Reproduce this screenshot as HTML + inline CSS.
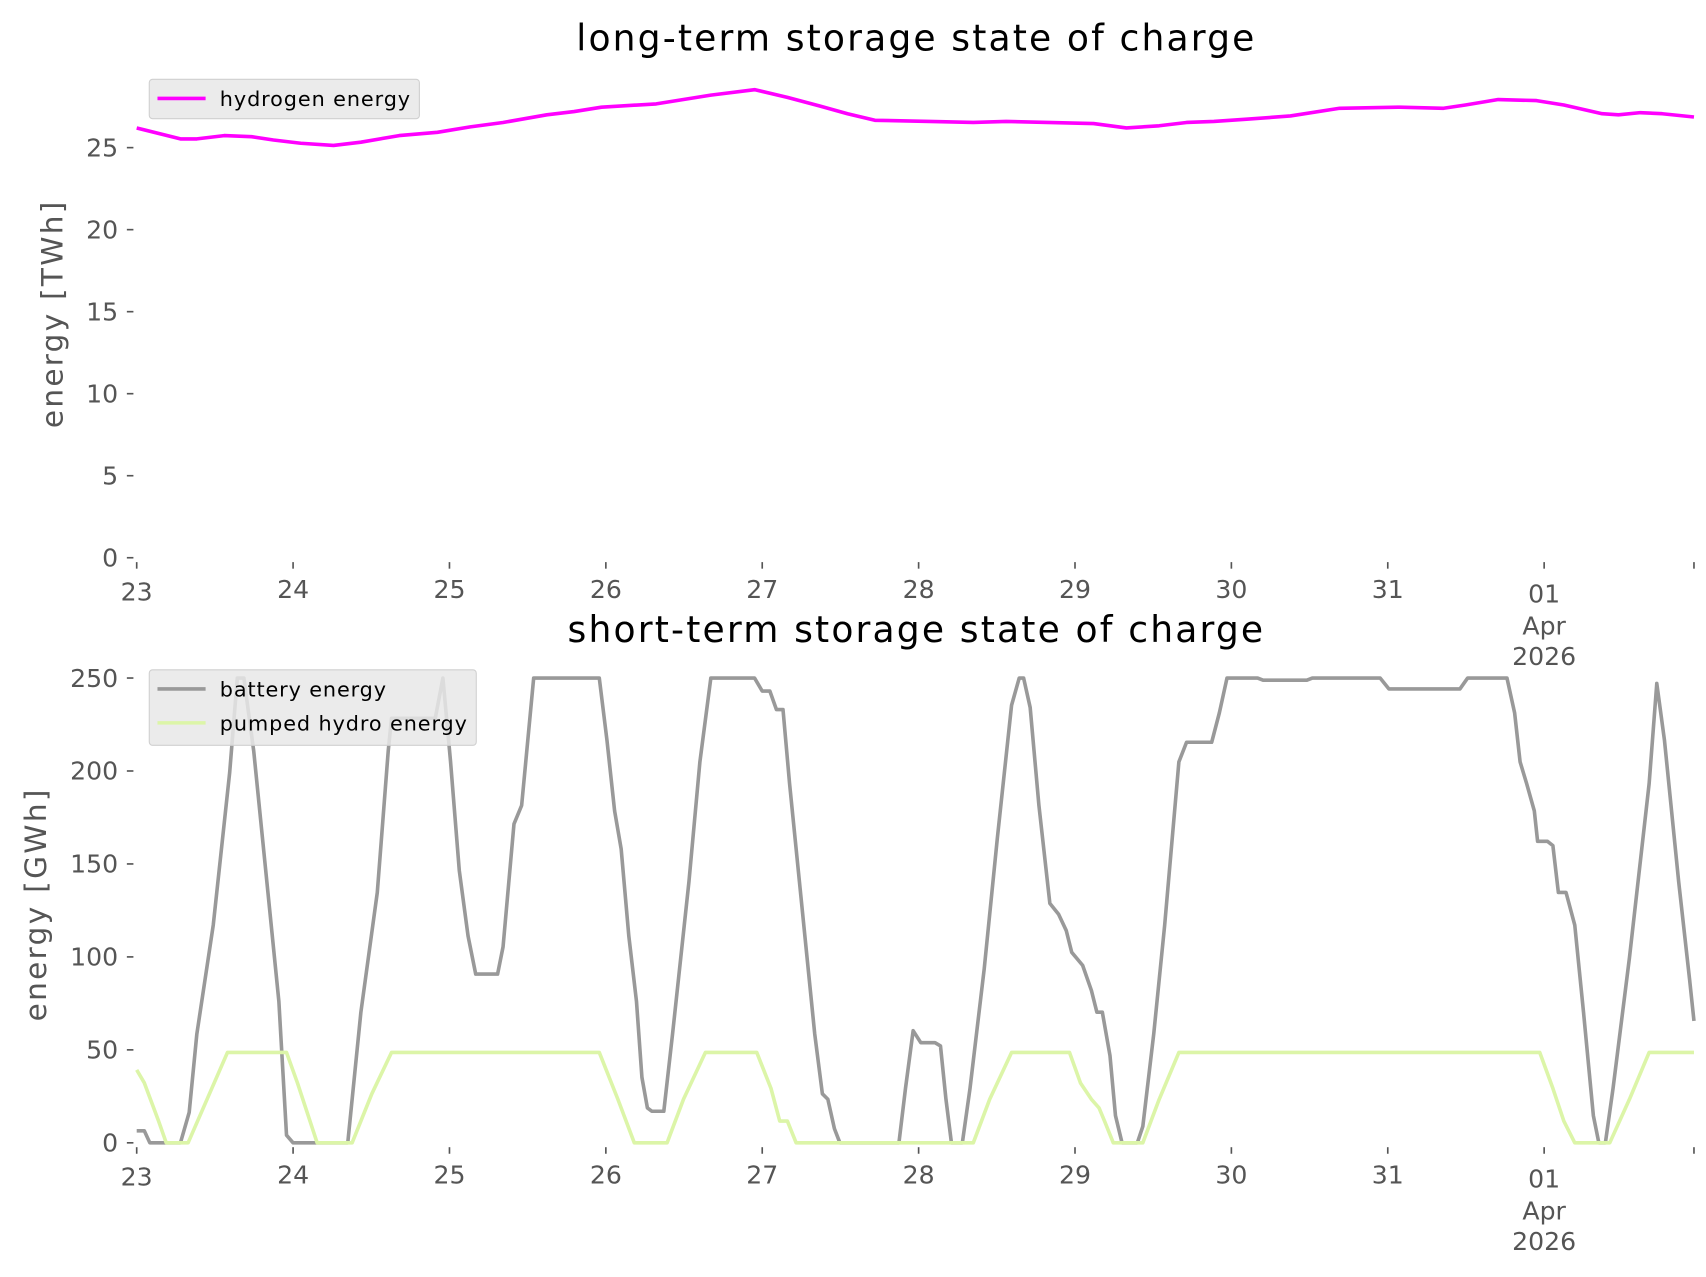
<!DOCTYPE html>
<html><head><meta charset="utf-8"><style>
html,body{margin:0;padding:0;background:#fff;}
svg{display:block;}
text{font-family:"DejaVu Sans","Liberation Sans",sans-serif;}
.t{fill:#555;font-size:23px;}
</style></head><body>
<svg width="1706" height="1277" viewBox="0 0 1560 1167.7" preserveAspectRatio="none" xmlns="http://www.w3.org/2000/svg">
<rect width="1560" height="1168" fill="#fff"/>
<!-- TOP -->
<text x="837" y="46" font-size="33" text-anchor="middle" textLength="620" fill="#000">long-term storage state of charge</text>
<text transform="translate(57,288) rotate(-90)" font-size="27" text-anchor="middle" textLength="207" fill="#555">energy [TWh]</text>
<g stroke="#555" stroke-width="1.5">
<line x1="116" y1="510" x2="122" y2="510"/><line x1="116" y1="435" x2="122" y2="435"/><line x1="116" y1="360" x2="122" y2="360"/><line x1="116" y1="285" x2="122" y2="285"/><line x1="116" y1="210" x2="122" y2="210"/><line x1="116" y1="135" x2="122" y2="135"/>
<line x1="125" y1="514" x2="125" y2="520"/><line x1="268" y1="514" x2="268" y2="520"/><line x1="411" y1="514" x2="411" y2="520"/><line x1="554" y1="514" x2="554" y2="520"/><line x1="697" y1="514" x2="697" y2="520"/><line x1="840" y1="514" x2="840" y2="520"/><line x1="983" y1="514" x2="983" y2="520"/><line x1="1126" y1="514" x2="1126" y2="520"/><line x1="1269" y1="514" x2="1269" y2="520"/><line x1="1412" y1="514" x2="1412" y2="520"/><line x1="1549" y1="514" x2="1549" y2="520"/>
</g>
<g class="t" text-anchor="end">
<text x="108" y="518">0</text><text x="108" y="443">5</text><text x="108" y="368">10</text><text x="108" y="293">15</text><text x="108" y="218">20</text><text x="108" y="143">25</text>
</g>
<g class="t" text-anchor="middle">
<text x="125" y="549">23</text><text x="268" y="547">24</text><text x="411" y="547">25</text><text x="554" y="547">26</text><text x="697" y="547">27</text><text x="840" y="547">28</text><text x="983" y="547">29</text><text x="1126" y="547">30</text><text x="1269" y="547">31</text><text x="1412" y="551">01</text><text x="1412" y="580">Apr</text><text x="1412" y="608">2026</text>
</g>
<polyline fill="none" stroke="#ff00ff" stroke-width="3.3" stroke-linejoin="round" points="125,117 165,127 180,127 205,124 230,125 250,128 275,131 305,133 330,130 365,124 400,121 430,116 460,112 500,105 525,102 550,98 600,95 650,87 690,82 720,89 750,97 775,104 800,110 850,111 890,112 920,111 1000,113 1030,117 1060,115 1085,112 1110,111 1140,109 1180,106 1225,99 1280,98 1320,99 1340,96 1370,91 1405,92 1430,96 1465,104 1480,105 1500,103 1520,104 1549,107"/>
<rect x="136.5" y="72.5" width="247" height="36" rx="3" fill="#e8e8e8" fill-opacity="0.85" stroke="#d0d0d0"/>
<line x1="144" y1="90" x2="188" y2="90" stroke="#ff00ff" stroke-width="3.3"/>
<text x="201" y="97" font-size="19" textLength="174" fill="#000">hydrogen energy</text>

<!-- BOTTOM -->
<text x="837" y="587" font-size="33" text-anchor="middle" textLength="636" fill="#000">short-term storage state of charge</text>
<text transform="translate(42,828) rotate(-90)" font-size="27" text-anchor="middle" textLength="212" fill="#555">energy [GWh]</text>
<g stroke="#555" stroke-width="1.5">
<line x1="116" y1="1045" x2="122" y2="1045"/><line x1="116" y1="960" x2="122" y2="960"/><line x1="116" y1="875" x2="122" y2="875"/><line x1="116" y1="790" x2="122" y2="790"/><line x1="116" y1="705" x2="122" y2="705"/><line x1="116" y1="620" x2="122" y2="620"/>
<line x1="125" y1="1049" x2="125" y2="1055"/><line x1="268" y1="1049" x2="268" y2="1055"/><line x1="411" y1="1049" x2="411" y2="1055"/><line x1="554" y1="1049" x2="554" y2="1055"/><line x1="697" y1="1049" x2="697" y2="1055"/><line x1="840" y1="1049" x2="840" y2="1055"/><line x1="983" y1="1049" x2="983" y2="1055"/><line x1="1126" y1="1049" x2="1126" y2="1055"/><line x1="1269" y1="1049" x2="1269" y2="1055"/><line x1="1412" y1="1049" x2="1412" y2="1055"/><line x1="1549" y1="1049" x2="1549" y2="1055"/>
</g>
<g class="t" text-anchor="end">
<text x="108" y="1053">0</text><text x="108" y="968">50</text><text x="108" y="883">100</text><text x="108" y="798">150</text><text x="108" y="713">200</text><text x="108" y="628">250</text>
</g>
<g class="t" text-anchor="middle">
<text x="125" y="1084">23</text><text x="268" y="1082">24</text><text x="411" y="1082">25</text><text x="554" y="1082">26</text><text x="697" y="1082">27</text><text x="840" y="1082">28</text><text x="983" y="1082">29</text><text x="1126" y="1082">30</text><text x="1269" y="1082">31</text><text x="1412" y="1086">01</text><text x="1412" y="1115">Apr</text><text x="1412" y="1143">2026</text>
</g>
<g transform="matrix(1 0 0 0.9953 0 -0.07)" fill="none" stroke-width="3.3" stroke-linejoin="round">
<polyline stroke="#999999" points="125,1039 132,1039 137,1050 165,1050 173,1022 180,950 195,850 210,710 217,623 223,623 232,690 245,820 255,920 262,1043 268,1050 318,1050 330,930 345,820 355,690 358,660 398,660 405,623 412,700 420,800 428,860 435,895 455,895 460,870 470,757 477,740 488,623 548,623 555,680 562,745 568,780 575,860 582,920 587,990 592,1018 596,1021 607,1021 615,950 630,810 640,700 650,623 690,623 697,635 704,635 710,652 716,652 722,720 730,800 740,900 745,950 752,1005 757,1010 763,1037 768,1050 822,1050 828,1000 835,947 842,958 855,958 860,961 865,1010 870,1050 880,1050 887,1000 900,890 912,770 925,648 932,623 936,623 942,650 950,740 960,830 968,840 975,855 980,875 990,887 998,910 1003,930 1008,930 1015,970 1020,1025 1026,1050 1040,1050 1045,1035 1055,950 1065,850 1078,700 1085,682 1108,682 1115,655 1122,623 1150,623 1155,625 1195,625 1200,623 1262,623 1270,633 1335,633 1342,623 1378,623 1385,655 1390,700 1396,720 1403,745 1406,773 1415,773 1420,777 1425,820 1432,820 1440,850 1448,930 1457,1025 1462,1050 1468,1050 1475,1000 1490,880 1508,720 1515,628 1522,680 1535,810 1545,900 1549,938"/>
<polyline stroke="#dcf5a8" points="125,983 132,995 145,1030 152,1050 172,1050 185,1020 208,967 262,967 272,995 290,1050 322,1050 340,1005 358,967 548,967 565,1010 580,1050 610,1050 625,1010 645,967 692,967 705,1000 713,1030 720,1030 728,1050 890,1050 905,1010 925,967 978,967 988,995 998,1010 1005,1018 1010,1030 1018,1050 1045,1050 1060,1010 1078,967 1408,967 1420,1000 1430,1030 1440,1050 1472,1050 1490,1010 1508,967 1549,967"/>
</g>
<rect x="136.5" y="612.5" width="299" height="69" rx="3" fill="#e8e8e8" fill-opacity="0.85" stroke="#d0d0d0"/>
<line x1="144" y1="630" x2="188" y2="630" stroke="#999999" stroke-width="3.3"/>
<text x="201" y="637" font-size="19" textLength="152" fill="#000">battery energy</text>
<line x1="144" y1="661" x2="188" y2="661" stroke="#dcf5a8" stroke-width="3.3"/>
<text x="201" y="668" font-size="19" textLength="226" fill="#000">pumped hydro energy</text>
</svg>
</body></html>
